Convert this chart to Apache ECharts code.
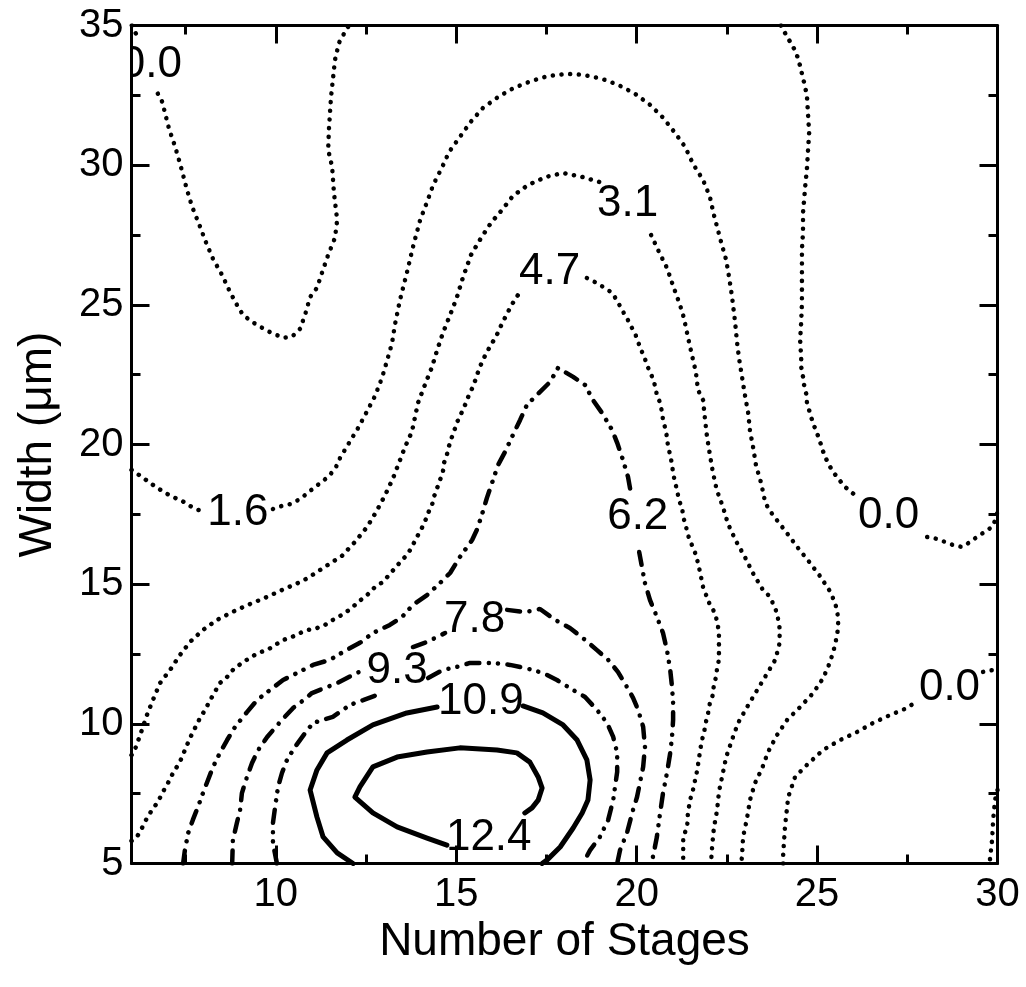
<!DOCTYPE html>
<html><head><meta charset="utf-8">
<script src="https://cdn.jsdelivr.net/npm/echarts@6/dist/echarts.min.js"></script>
<style>html,body{margin:0;padding:0;background:#fff}#c{width:1026px;height:987px}</style>
</head><body><div id="c"></div>
<script>
// ---- axis ticks ----
const xMajorTicks = [10, 15, 20, 25, 30];
const xMinorTicks = [7.5, 12.5, 17.5, 22.5, 27.5];

// ---- contour lines (x = number of stages, y = width in um) ----
const c00TopA = [[6.01,35.0],[6.10,34.77],[6.21,34.45]];
const c00TopB = [[6.73,32.56],[6.85,32.27],[7.04,31.30],[7.21,30.66],[7.34,30.08],[7.54,29.11],[7.68,28.51],[7.87,27.90],[8.06,27.25],[8.26,26.64],[8.51,26.07],[8.73,25.46],[8.95,24.93],[9.09,24.64],[9.34,24.39],[9.76,24.07],[10.20,23.82],[10.45,23.86],[10.67,24.14],[10.81,24.64],[10.95,25.28],[11.14,25.61],[11.28,26.15],[11.45,26.79],[11.64,27.40],[11.70,28.04],[11.61,29.01],[11.56,29.94],[11.45,30.55],[11.47,31.26],[11.53,32.45],[11.64,33.77],[11.75,34.38],[11.95,34.85],[12.03,35.0]];

const c16A = [[6.00,19.09],[6.29,18.84],[6.51,18.63],[6.71,18.45],[6.93,18.27],[7.15,18.12],[7.40,17.98],[7.62,17.80],[7.84,17.66],[8.09,17.59]];
const c16B = [[9.92,17.69],[10.17,17.80],[10.42,17.87],[10.67,18.05],[10.89,18.27],[11.08,18.48],[11.28,18.66],[11.50,18.91],[11.67,19.20],[11.78,19.52],[12.03,20.06],[12.28,20.59],[12.52,21.17],[12.75,21.74],[12.94,22.38],[13.08,22.99],[13.22,23.63],[13.30,24.28],[13.44,25.17],[13.63,26.14],[13.80,27.07],[14.00,28.04],[14.19,28.68],[14.36,29.29],[14.61,29.93],[14.80,30.47],[15.10,31.01],[15.40,31.55],[15.74,32.05],[16.16,32.44],[16.60,32.77],[17.07,33.01],[17.54,33.19],[18.07,33.27],[18.54,33.23],[19.04,33.09],[19.48,32.88],[19.95,32.56],[20.37,32.16],[20.73,31.70],[21.06,31.16],[21.34,30.66],[21.56,30.05],[21.84,29.47],[22.03,28.86],[22.14,28.22],[22.34,27.25],[22.48,26.61],[22.56,26.00],[22.64,25.32],[22.73,24.36],[22.78,23.67],[22.84,23.06],[22.92,22.42],[23.00,21.77],[23.09,21.13],[23.14,20.49],[23.23,19.88],[23.31,19.23],[23.45,18.62],[23.56,17.94],[23.67,17.66],[23.84,17.37],[24.14,16.87],[24.47,16.30],[24.78,15.80],[25.08,15.29],[25.39,14.68],[25.56,14.08],[25.59,13.47],[25.50,12.82],[25.36,12.21],[25.17,11.64],[24.89,11.10],[24.53,10.60],[24.17,10.14],[23.89,9.60],[23.64,8.99],[23.48,8.42],[23.28,7.88],[23.14,7.27],[23.06,6.63],[22.95,5.95],[22.92,5.30],[22.90,5.00]];

const c31A = [[6.00,8.88],[6.07,8.99],[6.24,9.60],[6.43,10.32],[6.57,10.78],[6.79,11.46],[7.07,11.93],[7.34,12.46],[7.62,12.93],[7.98,13.36],[8.37,13.72],[8.79,14.00],[9.23,14.26],[9.70,14.51],[10.17,14.79],[10.61,15.04],[10.89,15.22],[11.36,15.62],[11.83,16.01],[12.19,16.51],[12.53,17.05],[12.78,17.59],[13.03,18.19],[13.25,18.80],[13.41,19.34],[13.58,19.91],[13.77,20.45],[13.94,21.49],[14.13,22.13],[14.33,22.78],[14.47,23.38],[14.63,23.99],[14.83,24.64],[15.02,25.28],[15.19,26.00],[15.41,26.79],[15.69,27.40],[15.96,27.93],[16.27,28.40],[16.57,28.90],[16.99,29.29],[17.49,29.58],[17.96,29.72],[18.49,29.58],[18.96,29.40]];
const c31B = [[20.40,27.50],[20.62,26.89],[20.84,26.32],[21.01,25.68],[21.20,25.00],[21.31,24.53],[21.42,23.85],[21.53,23.21],[21.64,22.60],[21.70,21.95],[21.84,21.59],[21.89,20.95],[21.95,20.27],[22.03,19.63],[22.11,19.02],[22.22,18.37],[22.39,17.77],[22.53,17.16],[22.75,16.55],[23.00,15.97],[23.22,15.40],[23.50,14.79],[23.70,14.54],[23.89,13.97],[23.97,13.36],[23.95,12.82],[23.84,12.29],[23.61,11.79],[23.34,11.21],[23.06,10.60],[22.81,10.03],[22.64,9.42],[22.48,8.81],[22.39,8.24],[22.28,7.56],[22.23,6.92],[22.14,6.27],[22.09,5.59],[22.06,5.00]];

const c47A = [[6.00,5.81],[6.15,5.95],[6.29,6.27],[6.43,6.63],[6.57,6.92],[6.73,7.20],[6.87,7.56],[7.01,7.88],[7.15,8.24],[7.34,8.63],[7.48,9.06],[7.62,9.49],[7.76,9.85],[7.90,10.21],[8.04,10.50],[8.18,10.85],[8.31,11.14],[8.45,11.46],[8.65,11.68],[8.81,11.93],[9.06,12.18],[9.28,12.36],[9.51,12.54],[9.76,12.64],[9.98,12.82],[10.20,13.00],[10.45,13.11],[10.67,13.25],[10.89,13.36],[11.14,13.43],[11.36,13.54],[11.58,13.72],[11.83,13.90],[12.11,14.15],[12.28,14.36],[12.53,14.61],[12.75,14.90],[12.97,15.08],[13.50,15.87],[13.64,16.05],[13.77,16.33],[13.91,16.69],[14.02,16.94],[14.13,17.23],[14.22,17.55],[14.33,17.84],[14.38,18.12],[14.47,18.44],[14.55,18.73],[14.63,19.02],[14.66,19.34],[14.74,19.63],[14.80,19.95],[14.88,20.27],[14.97,20.59],[15.05,20.88],[15.16,21.17],[15.27,21.49],[15.35,21.77],[15.46,22.06],[15.55,22.38],[15.63,22.70],[15.74,23.03],[15.85,23.31],[15.99,23.63],[16.10,23.85],[16.21,24.17],[16.32,24.46],[16.43,24.74],[16.57,25.07],[16.71,25.35]];
const c47B = [[18.62,25.96],[18.90,25.78],[19.12,25.60],[19.32,25.43],[19.48,25.10],[19.59,24.82],[19.73,24.53],[19.82,24.28],[19.95,24.00],[20.04,23.67],[20.15,23.31],[20.23,23.06],[20.32,22.74],[20.43,22.42],[20.51,22.10],[20.56,21.77],[20.65,21.49],[20.70,21.17],[20.73,20.88],[20.79,20.59],[20.84,20.27],[20.87,19.91],[20.93,19.63],[20.98,19.27],[21.01,18.98],[21.06,18.66],[21.12,18.37],[21.17,18.01],[21.26,17.73],[21.29,17.41],[21.37,17.05],[21.42,16.76],[21.53,16.40],[21.62,16.12],[21.70,15.76],[21.76,15.40],[21.84,14.90],[22.03,14.26],[22.17,13.97],[22.23,13.65],[22.28,13.29],[22.28,12.64],[22.28,12.29],[22.23,12.00],[22.20,11.68],[22.14,11.39],[22.11,11.03],[22.03,10.75],[21.98,10.39],[21.92,10.07],[21.87,9.71],[21.81,9.42],[21.76,9.06],[21.68,8.35],[21.62,7.99],[21.56,7.63],[21.48,7.27],[21.42,6.81],[21.40,6.31],[21.29,5.95],[21.29,5.30],[21.29,5.00]];

const c62A = [[7.43,5.00],[7.48,5.48],[7.57,6.09],[7.70,6.56],[7.84,7.02],[7.98,7.52],[8.12,7.99],[8.26,8.46],[8.45,8.96],[8.65,9.42],[8.87,9.89],[9.20,10.42],[9.48,10.85],[9.84,11.21],[10.20,11.57],[10.59,11.82],[11.03,12.11],[11.50,12.29],[11.86,12.57],[12.33,12.90],[12.69,13.25],[13.16,13.54],[13.50,13.83],[13.80,14.26],[14.19,14.61],[14.55,15.04],[14.83,15.40],[15.10,15.97],[15.44,16.58],[15.57,16.94],[15.71,17.48],[15.85,18.09],[15.99,18.62],[16.16,19.27],[16.35,19.73],[16.57,20.34],[16.77,20.88],[16.96,21.42],[17.18,21.70],[17.60,22.24],[17.82,22.74],[18.24,22.42],[18.57,22.13],[18.79,21.59],[19.04,21.13],[19.32,20.52],[19.46,20.06],[19.62,19.45],[19.76,18.84],[19.84,18.26]];
const c62B = [[20.07,16.15],[20.23,15.04],[20.37,14.43],[20.56,13.83],[20.73,13.25],[20.84,12.64],[20.93,11.93],[20.98,11.32],[21.01,10.75],[21.01,10.14],[20.98,9.53],[20.93,8.96],[20.84,8.24],[20.73,7.52],[20.65,6.81],[20.56,5.95],[20.45,5.23],[20.43,5.00]];

const c78A = [[8.79,5.00],[8.81,5.84],[8.92,6.45],[9.01,6.92],[9.06,7.52],[9.20,8.10],[9.34,8.60],[9.51,9.06],[9.76,9.53],[10.12,10.07],[10.48,10.57],[10.67,10.75],[11.00,11.10],[11.70,11.46],[12.14,11.75],[12.42,11.93]];
const c78B = [[13.80,12.75],[14.19,12.93],[14.69,13.25]];
const c78C = [[16.41,14.08],[16.91,14.00],[17.32,14.11],[17.74,13.72],[18.15,13.43],[18.51,13.07],[18.90,12.64],[19.21,12.29],[19.48,11.86],[19.73,11.32],[19.90,10.93],[20.04,10.50],[20.18,9.89],[20.23,9.17],[20.18,8.46],[20.09,7.88],[20.01,7.38],[19.90,6.92],[19.73,6.09],[19.54,5.48],[19.46,5.00]];

const c93A = [[10.03,5.00],[9.92,5.73],[9.92,6.45],[9.98,7.02],[10.06,7.74],[10.17,8.24],[10.31,8.71],[10.53,9.17],[10.81,9.67],[11.03,10.03],[11.58,10.25],[12.06,10.68],[12.42,10.85],[12.94,11.10]];
const c93B = [[14.22,11.64],[14.63,11.93],[15.02,12.04],[15.38,12.18],[16.02,12.18],[16.49,12.11],[16.91,12.00],[17.40,11.82],[17.79,11.57],[18.15,11.28],[18.57,10.96],[18.90,10.50],[19.18,10.03],[19.35,9.53],[19.46,8.96],[19.46,8.28],[19.40,7.74],[19.35,7.27],[19.21,6.56],[18.98,5.95],[18.71,5.48],[18.51,5.00]];

const c109A = [[12.14,5.00],[11.70,5.38],[11.31,5.95],[11.14,6.66],[10.95,7.63],[11.14,8.35],[11.42,8.96],[11.97,9.42],[12.69,9.96],[13.63,10.39],[14.47,10.60]];
const c109B = [[16.85,10.64],[17.40,10.39],[17.96,9.96],[18.35,9.42],[18.62,8.71],[18.71,7.99],[18.65,7.27],[18.49,6.81],[18.24,6.27],[17.88,5.59],[17.52,5.13],[17.38,5.00]];

const c124 = [[16.90,6.81],[17.10,6.99],[17.27,7.27],[17.38,7.70],[17.27,8.10],[17.04,8.63],[16.68,8.96],[16.13,9.06],[15.10,9.14],[14.19,8.99],[13.36,8.81],[12.69,8.46],[12.33,7.74],[12.19,7.38],[12.69,6.81],[13.36,6.31],[14.19,5.91],[14.74,5.66]];

const c00RightA = [[24.00,35.0],[24.17,34.59],[24.31,34.30],[24.42,34.02],[24.50,33.70],[24.61,33.12],[24.67,32.80],[24.72,32.45],[24.75,31.80],[24.78,31.16],[24.75,30.55],[24.72,29.90],[24.67,29.22],[24.61,28.29],[24.61,27.61],[24.58,26.97],[24.58,26.00],[24.58,25.07],[24.56,24.39],[24.53,23.74],[24.56,23.10],[24.56,22.78],[24.61,22.42],[24.64,22.13],[24.70,21.81],[24.72,21.49],[24.86,20.88],[24.94,20.59],[25.05,20.23],[25.19,19.66],[25.30,19.34],[25.44,19.02],[25.58,18.80],[25.74,18.52],[25.94,18.30],[26.13,18.12]];
const c00RightB = [[28.05,16.69],[28.33,16.62],[28.55,16.51],[28.77,16.40],[29.02,16.33],[29.24,16.51],[29.43,16.69],[29.68,16.90],[29.88,17.08],[30.00,17.59]];
const c00LowA = [[24.06,5.00],[24.06,5.30],[24.11,6.31],[24.20,7.38],[24.39,8.10],[24.72,8.53],[25.16,9.06],[25.64,9.42],[26.11,9.71],[26.55,10.03],[27.03,10.32],[27.50,10.57],[27.80,10.85]];
const c00LowB = [[29.60,11.86],[29.88,11.93],[30.00,12.00]];
const c00Edge = [[30.00,7.63],[29.93,7.27],[29.88,6.56],[29.85,5.84],[29.79,5.13],[29.77,5.00]];

// ---- contour labels ----
const labelText = ['0.0','1.6','3.1','4.7','6.2','7.8','9.3','10.9','12.4','0.0','0.0'];
const labelX = [6.55, 8.95, 19.75, 17.59, 20.03, 15.51, 13.36, 15.68, 15.90, 26.98, 28.67];
const labelY = [33.59, 17.55, 28.61, 26.18, 17.41, 13.72, 11.89, 10.78, 5.91, 17.44, 11.28];

const FONT = '"Liberation Sans", Arial, Helvetica, sans-serif';
const DOT = {color:'#000', width:4.5, type:[0.1, 8.6], cap:'round'};
const DASHDOTDOT = {color:'#000', width:4.5, type:[13, 9.5, 0.1, 9, 0.1, 9.5], cap:'round'};
const DASHDOT = {color:'#000', width:4.5, type:[13, 9.5, 0.1, 9.5], cap:'round'};
const SOLID = {color:'#000', width:5, type:'solid', cap:'round', join:'round'};

function line(data, style){
  return {type:'line', data:data, symbol:'none', silent:true, animation:false, clip:true,
          lineStyle:style, z:2};
}
const pieces = [
  [c00TopA,DOT],[c00TopB,DOT],[c16A,DOT],[c16B,DOT],[c31A,DOT],[c31B,DOT],[c47A,DOT],[c47B,DOT],
  [c62A,DASHDOTDOT],[c62B,DASHDOTDOT],[c78A,DASHDOT],[c78B,DASHDOT],[c78C,DASHDOT],
  [c93A,DASHDOTDOT],[c93B,DASHDOTDOT],[c109A,SOLID],[c109B,SOLID],[c124,SOLID],
  [c00RightA,DOT],[c00RightB,DOT],[c00LowA,DOT],[c00LowB,DOT],[c00Edge,DOT]
];
const series = pieces.map(p => line(p[0], p[1]));
series.push({
  type:'custom', coordinateSystem:'cartesian2d', clip:true, silent:true, animation:false, z:5,
  data: labelX.map((x,i)=>[x, labelY[i]]),
  renderItem: function(params, api){
    const p = api.coord([api.value(0), api.value(1)]);
    return {type:'text', x:p[0], y:p[1],
      style:{text:labelText[params.dataIndex], fontSize:44, fontFamily:FONT, fill:'#000',
             align:'center', verticalAlign:'middle'}};
  }
});

const tickStyle = {color:'#000', width:3};
const chart = echarts.init(document.getElementById('c'), null, {renderer:'canvas'});
chart.setOption({
  backgroundColor:'#fff',
  animation:false,
  grid:{left:131.5, right:28.5, top:25.5, bottom:123.5, containLabel:false},
  xAxis:[
    {type:'value', min:6, max:30, position:'bottom',
     axisLine:{onZero:false, lineStyle:{color:'#000', width:3}},
     axisTick:{inside:true, length:18, lineStyle:tickStyle, customValues:xMajorTicks},
     axisLabel:{customValues:xMajorTicks, fontSize:40, color:'#000', fontFamily:FONT, margin:11},
     splitLine:{show:false},
     name:'Number of Stages', nameLocation:'middle', nameGap:52,
     nameTextStyle:{fontSize:46, color:'#000', fontFamily:FONT}},
    {type:'value', min:6, max:30, position:'bottom',
     axisLine:{show:false},
     axisTick:{inside:true, length:9, lineStyle:tickStyle, customValues:xMinorTicks},
     axisLabel:{show:false}, splitLine:{show:false}},
    {type:'value', min:6, max:30, position:'top',
     axisLine:{onZero:false, lineStyle:{color:'#000', width:3}},
     axisTick:{inside:true, length:18, lineStyle:tickStyle, customValues:xMajorTicks},
     axisLabel:{show:false}, splitLine:{show:false}},
    {type:'value', min:6, max:30, position:'top',
     axisLine:{show:false},
     axisTick:{inside:true, length:9, lineStyle:tickStyle, customValues:xMinorTicks},
     axisLabel:{show:false}, splitLine:{show:false}}
  ],
  yAxis:[
    {type:'value', min:5, max:35, interval:5, position:'left',
     axisLine:{onZero:false, lineStyle:{color:'#000', width:3}},
     axisTick:{inside:true, length:18, lineStyle:tickStyle},
     minorTick:{show:true, splitNumber:2, length:9, lineStyle:tickStyle},
     axisLabel:{fontSize:40, color:'#000', fontFamily:FONT, margin:8},
     splitLine:{show:false}, minorSplitLine:{show:false},
     name:'Width (μm)', nameLocation:'middle', nameGap:70, nameRotate:90,
     nameTextStyle:{fontSize:46, color:'#000', fontFamily:FONT}},
    {type:'value', min:5, max:35, interval:5, position:'right',
     axisLine:{onZero:false, lineStyle:{color:'#000', width:3}},
     axisTick:{inside:true, length:18, lineStyle:tickStyle},
     minorTick:{show:true, splitNumber:2, length:9, lineStyle:tickStyle},
     axisLabel:{show:false}, splitLine:{show:false}, minorSplitLine:{show:false}}
  ],
  series: series
});
</script></body></html>
